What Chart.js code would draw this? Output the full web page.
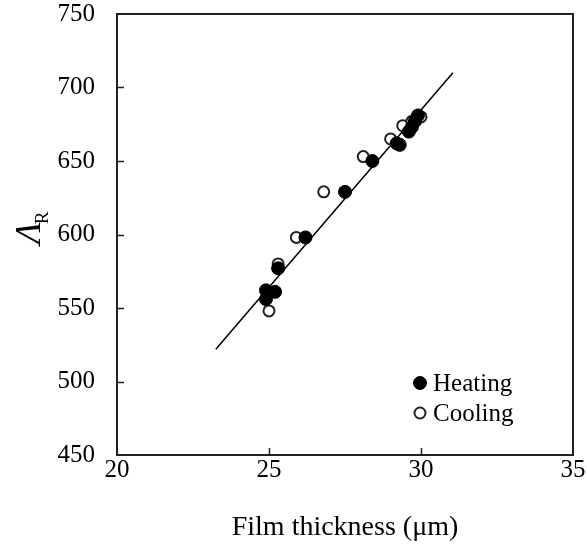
<!DOCTYPE html>
<html>
<head>
<meta charset="utf-8">
<script src="https://cdn.jsdelivr.net/npm/chart.js@4.4.1/dist/chart.umd.min.js"></script>
<style>
    html, body { margin: 0; padding: 0; background: #fff; }
    #wrap { width: 587px; height: 549px; }
</style>
</head>
<body>
<div id="wrap"><canvas id="chart" width="587" height="549"></canvas></div>
<script>
'use strict';

// Film thickness (um) vs Lambda_R
const heatX = [24.9, 24.9, 25.2, 25.3, 26.2, 27.5, 28.4, 29.2, 29.3, 29.6, 29.7, 29.8, 29.9];
const heatY = [556, 562, 561, 577, 598, 629, 650, 662, 661, 670, 673, 677, 681];
const coolX = [25.0, 24.95, 25.3, 25.9, 26.8, 28.1, 29.0, 29.4, 29.7, 30.0];
const coolY = [548, 560, 580, 598, 629, 653, 665, 674, 677, 680];
// linear fit, end points
const fitX = [23.25, 31.05];
const fitY = [522, 710];

const xTicks = [20, 25, 30, 35];
const yTicks = [450, 500, 550, 600, 650, 700, 750];

const SERIF = '"Liberation Serif", "Times New Roman", serif';

function toPoints(xs, ys) {
    return xs.map((x, i) => ({ x: x, y: ys[i] }));
}

// drop the label overflow padding so layout.padding alone sets the plot box
function noPad(scale) {
    scale.paddingTop = 0;
    scale.paddingBottom = 0;
    scale.paddingLeft = 0;
    scale.paddingRight = 0;
}

// box + inward tick marks + y title + legend
const framePlugin = {
    id: 'frame',
    afterDraw(chart) {
        const ctx = chart.ctx;
        const a = chart.chartArea;
        const xs = chart.scales.x, ys = chart.scales.y;
        ctx.save();
        ctx.strokeStyle = '#222';
        ctx.lineWidth = 2;
        ctx.strokeRect(a.left, a.top, a.right - a.left, a.bottom - a.top);

        ctx.lineWidth = 1.5;
        ctx.beginPath();
        for (const v of xTicks.slice(1, -1)) {
            const px = Math.round(xs.getPixelForValue(v)) + 0.5;
            ctx.moveTo(px, a.bottom);
            ctx.lineTo(px, a.bottom - 7);
        }
        for (const v of yTicks.slice(1, -1)) {
            const py = Math.round(ys.getPixelForValue(v)) + 0.5;
            ctx.moveTo(a.left, py);
            ctx.lineTo(a.left + 7, py);
        }
        ctx.stroke();

        // y title: Lambda with subscript R, rotated
        ctx.fillStyle = '#000';
        ctx.translate(40, 244);
        ctx.rotate(-Math.PI / 2);
        ctx.textBaseline = 'alphabetic';
        ctx.textAlign = 'left';
        ctx.font = 'italic 36px ' + SERIF;
        ctx.fillText('Λ', 0, 0);
        const w = ctx.measureText('Λ').width;
        ctx.font = '19px ' + SERIF;
        ctx.fillText('R', w - 2, 8);
        ctx.setTransform(1, 0, 0, 1, 0, 0);

        // legend
        const items = [
            { label: 'Heating', ds: chart.data.datasets[1] },
            { label: 'Cooling', ds: chart.data.datasets[2] }
        ];
        ctx.font = '25px ' + SERIF;
        ctx.textBaseline = 'middle';
        items.forEach((it, i) => {
            const cx = 420, cy = 383 + i * 30;
            ctx.beginPath();
            ctx.arc(cx, cy, it.ds.pointRadius, 0, Math.PI * 2);
            ctx.fillStyle = it.ds.backgroundColor;
            ctx.fill();
            ctx.lineWidth = it.ds.borderWidth;
            ctx.strokeStyle = it.ds.borderColor;
            ctx.stroke();
            ctx.fillStyle = '#000';
            ctx.fillText(it.label, 433, cy + 1);
        });
        ctx.restore();
    }
};

Chart.defaults.font.family = SERIF;
Chart.defaults.color = '#000';

const ctx = document.getElementById('chart').getContext('2d');
new Chart(ctx, {
    type: 'scatter',
    data: {
        datasets: [{
            type: 'line',
            label: 'fit',
            data: toPoints(fitX, fitY),
            borderColor: '#000',
            borderWidth: 1.5,
            pointRadius: 0,
            fill: false
        }, {
            label: 'Heating',
            data: toPoints(heatX, heatY),
            backgroundColor: '#000',
            borderColor: '#000',
            borderWidth: 1,
            pointRadius: 6.5
        }, {
            label: 'Cooling',
            data: toPoints(coolX, coolY),
            backgroundColor: '#fff',
            borderColor: '#222',
            borderWidth: 2,
            pointRadius: 5.5
        }]
    },
    options: {
        responsive: false,
        animation: false,
        layout: { padding: { top: 14, right: 14, left: 0, bottom: 0 } },
        plugins: {
            legend: { display: false },
            tooltip: { enabled: false }
        },
        scales: {
            x: {
                type: 'linear',
                min: 20,
                max: 35,
                grid: { display: false, drawTicks: false },
                border: { display: false },
                ticks: {
                    stepSize: 5,
                    padding: 3,
                    font: { size: 25, family: SERIF, lineHeight: 1 },
                    color: '#000'
                },
                title: {
                    display: true,
                    text: 'Film thickness (μm)',
                    font: { size: 28, family: SERIF },
                    color: '#000',
                    padding: { top: 0, bottom: 5 }
                },
                afterFit(scale) { scale.height = 94; noPad(scale); }
            },
            y: {
                type: 'linear',
                min: 450,
                max: 750,
                grid: { display: false, drawTicks: false },
                border: { display: false },
                ticks: {
                    stepSize: 50,
                    padding: 22,
                    font: { size: 25, family: SERIF, lineHeight: 1 },
                    color: '#000'
                },
                afterFit(scale) { scale.width = 117; noPad(scale); }
            }
        }
    },
    plugins: [framePlugin]
});
</script>
</body>
</html>
